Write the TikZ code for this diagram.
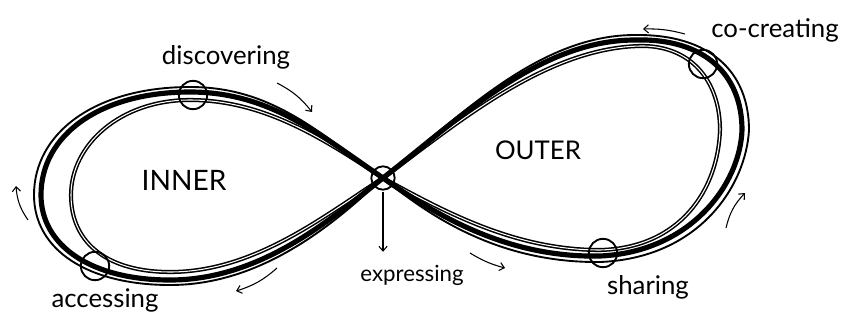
\documentclass[tikz,border=0pt]{standalone}
\usepackage{fontspec}
\setmainfont{Lato}
\usetikzlibrary{arrows.meta, positioning, calc}
\tikzset{
  strand/.style={line width=4.4pt, line cap=round, line join=round},
  thinstrand/.style={line width=1.6pt, line cap=round, line join=round},
  pairstrand/.style={line width=1.3pt, double=white, double distance=0.9pt},
  waypoint/.style={circle, draw, line width=1.6pt, minimum size=0.85cm, inner sep=0pt},
  flow/.style={-{Straight Barb[length=4pt,width=7pt]}, line width=0.9pt},
  word/.style={font=\fontsize{22}{26}\selectfont, inner sep=1pt},
  region/.style={font=\fontsize{22}{26}\selectfont, inner sep=1pt}
}

\begin{document}
\begin{tikzpicture}[x=0.03cm, y=-0.03cm]
  \useasboundingbox (0,0) rectangle (845,324);

  % Points on the loop
  \coordinate (x) at (383,178);
  \coordinate (d) at (193,95);
  \coordinate (a) at (95,266);
  \coordinate (s) at (603,253);
  \coordinate (c) at (703,64);

  % Inner strand
  \draw[pairstrand] (x) .. controls (455,125) and (545,48) .. (640,46)
    .. controls (690,45) and (720,80) .. (720,130)
    .. controls (718,190) and (680,248) .. (600,250)
    .. controls (515,250) and (445,212) .. (x)
    .. controls (325,140) and (265,100) .. (190,100)
    .. controls (120,100) and (71,145) .. (71,195)
    .. controls (71,245) and (110,272) .. (170,272)
    .. controls (255,272) and (325,215) .. (x);
  % Second outer strand
  \draw[thinstrand] (x) .. controls (462,114) and (540,35) .. (635,35)
    .. controls (710,34) and (749,72) .. (749,130)
    .. controls (746,185) and (700,258) .. (600,262)
    .. controls (505,263) and (436,222) .. (x)
    .. controls (316,130) and (270,87) .. (190,87)
    .. controls (95,87) and (34,133) .. (34,195)
    .. controls (34,250) and (88,285) .. (170,285)
    .. controls (262,285) and (334,224) .. (x);
  % Main strand
  \draw[strand] (x) .. controls (460,118) and (540,40) .. (635,40)
    .. controls (705,38) and (742,75) .. (742,130)
    .. controls (740,185) and (690,252) .. (600,256)
    .. controls (510,258) and (440,218) .. (x)
    .. controls (320,135) and (270,92) .. (190,92)
    .. controls (100,92) and (41,135) .. (41,195)
    .. controls (41,245) and (90,280) .. (170,280)
    .. controls (260,280) and (330,220) .. (x);

  % Stations
  \node[waypoint, minimum size=0.7cm] (X) at (x) {};
  \node[waypoint] (disc) at (d) {};
  \node[waypoint] (acc) at (a) {};
  \node[waypoint] (shar) at (s) {};
  \node[waypoint] (cocr) at (c) {};

  % Labels
  \node[word] (ldisc) at (226,57) {discovering};
  \node[word] (lacc) at (105,300) {accessing};
  \node[word, font=\fontsize{19}{22}\selectfont] (lexpr) at (412,275) {expressing};
  \node[word] (lshar) at (648,287) {sharing};
  \node[word] (lcocr) at (775,30) {co-creating};
  \node[region, font=\fontsize{24}{28}\selectfont] (inner) at (184,180) {INNER};
  \node[region] (outer) at (538,150) {OUTER};

  % Direction of travel
  \draw[flow, shorten <=1pt, shorten >=0.35cm] (X.south) -- (X |- lexpr.north);
  \draw[flow] (277,83) to[bend left=12] (312,112);
  \draw[flow] (28,220) to[bend left=15] (16,186);
  \draw[flow] (277,268) to[bend left=12] (236,291);
  \draw[flow] (470,253) to[bend right=8] (505,268);
  \draw[flow] (726,228) to[bend left=15] (745,193);
  \draw[flow] (685,34) to[bend right=8] (643,29);
\end{tikzpicture}
\end{document}
